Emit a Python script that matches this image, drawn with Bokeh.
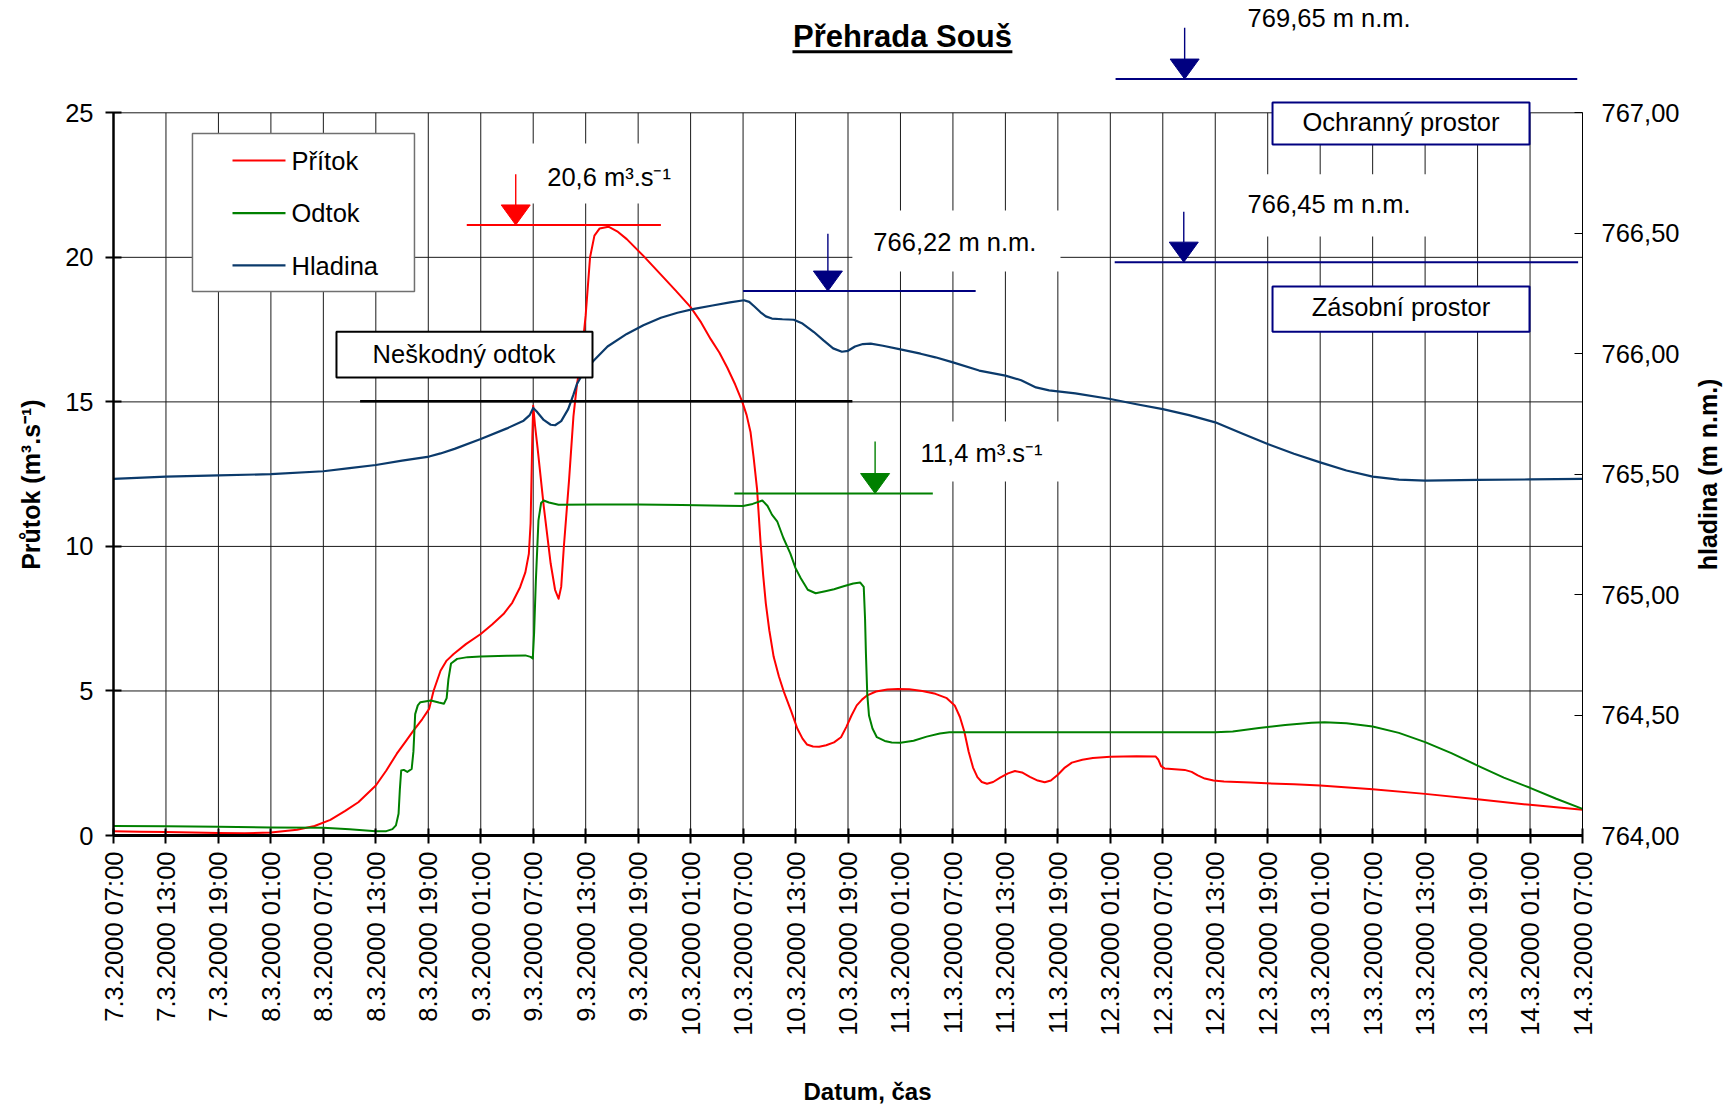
import math
from bokeh.plotting import figure
from bokeh.models import Range1d, LinearAxis, FixedTicker
from bokeh.core.properties import value
from bokeh.embed import file_html
from bokeh.resources import INLINE

FONT = "Liberation Sans"

# ---------------- data ----------------
# x axis: hours after 7.3.2000 07:00, one tick every 6 hours
tick_hours = list(range(0, 169, 6))
tick_labels = [
    "7.3.2000 07:00", "7.3.2000 13:00", "7.3.2000 19:00",
    "8.3.2000 01:00", "8.3.2000 07:00", "8.3.2000 13:00", "8.3.2000 19:00",
    "9.3.2000 01:00", "9.3.2000 07:00", "9.3.2000 13:00", "9.3.2000 19:00",
    "10.3.2000 01:00", "10.3.2000 07:00", "10.3.2000 13:00", "10.3.2000 19:00",
    "11.3.2000 01:00", "11.3.2000 07:00", "11.3.2000 13:00", "11.3.2000 19:00",
    "12.3.2000 01:00", "12.3.2000 07:00", "12.3.2000 13:00", "12.3.2000 19:00",
    "13.3.2000 01:00", "13.3.2000 07:00", "13.3.2000 13:00", "13.3.2000 19:00",
    "14.3.2000 01:00", "14.3.2000 07:00",
]
q_ticks = [0, 5, 10, 15, 20, 25]
h_ticks = [764, 764.5, 765, 765.5, 766, 766.5, 767]
h_tick_labels = ["764,00", "764,50", "765,00", "765,50", "766,00", "766,50", "767,00"]

# Přítok (inflow), m3/s
pritok_t = [0, 3, 6, 9, 12, 15, 18, 21, 23, 24.8, 26.5, 28, 30, 31.2, 32.4, 33.4, 34.3, 35.3,
            36.1, 36.6, 37.4, 38.1, 38.9, 40.3, 42, 43.3, 44.6, 45.6, 46.5, 47.1, 47.5, 47.7,
            47.8, 47.9, 48.0, 48.2, 48.5, 49.2, 50.0, 50.5, 50.9, 51.2, 51.5, 52.1, 52.6,
            53.0, 53.5, 54.0, 54.5, 55.0, 55.6, 56.6, 57.6, 58.7, 60.6, 62.6, 64.3, 66.0,
            67.2, 68.3, 69.3, 70.2, 71.1, 71.9, 72.4, 72.85, 73.2, 73.6, 74.0, 74.3, 74.6,
            75.0, 75.5, 76.1, 76.7, 77.5, 78.2, 78.8, 79.3, 80.0, 80.7, 81.5, 82.4, 83.2,
            83.8, 84.4, 85.0, 85.6, 86.2, 87.2, 88.5, 89.7, 91, 92.5, 94, 95.3, 96.2, 96.8,
            97.3, 97.8, 98.3, 98.8, 99.3, 99.9, 100.6, 101.4, 102.3, 103.1, 103.9, 104.8,
            105.7, 106.5, 107.2, 108, 108.8, 109.6, 110.8, 112, 114, 117, 119.2, 119.5,
            119.8, 120.2, 121, 122.5, 123.3, 124, 124.8, 125.8, 127, 130, 135, 138, 144,
            150, 156, 162, 168]
pritok_q = [0.15, 0.13, 0.12, 0.10, 0.09, 0.08, 0.10, 0.20, 0.33, 0.54, 0.85, 1.15, 1.73,
            2.25, 2.83, 3.25, 3.63, 4.02, 4.38, 5.0, 5.7, 6.05, 6.28, 6.62, 6.97, 7.3, 7.66,
            8.05, 8.59, 9.1, 9.74, 10.8, 12.3, 13.8, 14.87, 14.2, 13.4, 11.4, 9.4, 8.5, 8.19,
            8.6, 9.97, 12.3, 14.5, 15.6, 16.5, 18.0, 20.0, 20.75, 21.0, 21.06, 20.9, 20.63,
            20.05, 19.4, 18.85, 18.28, 17.75, 17.17, 16.7, 16.18, 15.6, 15.01, 14.55, 13.96,
            13.1, 11.98, 10.13, 9.0, 8.03, 7.1, 6.18, 5.5, 4.94, 4.3, 3.7, 3.35, 3.15, 3.08,
            3.07, 3.12, 3.22, 3.4, 3.75, 4.15, 4.5, 4.7, 4.85, 4.98, 5.05, 5.07, 5.06, 5.0,
            4.9, 4.75, 4.5, 4.1, 3.6, 2.9, 2.35, 2.02, 1.85, 1.79, 1.85, 2.0, 2.15, 2.23,
            2.18, 2.03, 1.9, 1.84, 1.9, 2.1, 2.35, 2.52, 2.62, 2.68, 2.72, 2.74, 2.73, 2.62,
            2.4, 2.32, 2.3, 2.27, 2.2, 2.08, 1.97, 1.9, 1.87, 1.83, 1.77, 1.73, 1.6, 1.44,
            1.25, 1.06, 0.89]

# Odtok (outflow), m3/s
odtok_t = [0, 6, 12, 18, 24, 27, 30, 31.2, 31.9, 32.3, 32.6, 32.75, 32.9, 33.2, 33.6, 34.1,
           34.3, 34.5, 34.8, 35.1, 36.3, 37.2, 37.8, 38.1, 38.3, 38.6, 39.3, 40.5, 42, 45,
           47.1, 47.7, 47.95, 48.1, 48.3, 48.6, 48.9, 49.2, 49.8, 50.9, 55, 60, 65, 70, 72,
           73.1, 74.2, 74.8, 75.3, 75.9, 76.6, 77.4, 78.0, 78.6, 79.4, 80.3, 81.4, 82.4,
           83.5, 84.6, 85.4, 85.8, 85.95, 86.05, 86.2, 86.4, 86.8, 87.3, 88.2, 89.0, 90.0,
           91.5, 93.0, 94.5, 95.6, 100, 110, 120, 126, 128, 131, 134, 137, 138.5, 141, 144,
           147, 150, 153, 156, 159, 162, 165, 168]
odtok_q = [0.33, 0.32, 0.30, 0.28, 0.27, 0.22, 0.15, 0.15, 0.22, 0.35, 0.75, 1.6, 2.25,
           2.27, 2.2, 2.3, 2.9, 4.2, 4.5, 4.61, 4.67, 4.6, 4.56, 4.75, 5.4, 5.95, 6.11, 6.17,
           6.19, 6.22, 6.23, 6.18, 6.12, 7.0, 8.8, 10.9, 11.5, 11.59, 11.52, 11.44, 11.45,
           11.45, 11.43, 11.41, 11.4, 11.47, 11.59, 11.4, 11.1, 10.87, 10.3, 9.76, 9.25, 8.9,
           8.5, 8.38, 8.45, 8.52, 8.62, 8.72, 8.75, 8.6, 7.5, 6.3, 4.9, 4.15, 3.7, 3.4, 3.27,
           3.22, 3.21, 3.28, 3.42, 3.53, 3.57, 3.57, 3.57, 3.57, 3.57, 3.6, 3.72, 3.82, 3.9,
           3.92, 3.88, 3.77, 3.55, 3.23, 2.85, 2.42, 2.0, 1.65, 1.27, 0.92]

# Hladina (water level), m n.m.
hladina_t = [0, 6, 12, 18, 24, 27, 30, 33, 36.1, 37.4, 39, 42, 45, 46.9, 47.6, 48.0, 48.4,
             49.2, 50.0, 50.5, 51.2, 52.0, 52.6, 53.0, 53.8, 54.9, 56.5, 58.7, 60.6, 62.6,
             64.5, 66.4, 68.5, 70.5, 72.1, 72.7, 73.3, 74.0, 74.6, 75.3, 76.5, 77.8, 78.8,
             80.1, 81.2, 82.3, 83.3, 84.0, 84.8, 85.7, 86.6, 88, 90, 92.3, 94, 96, 99, 102,
             103.8, 105.5, 107, 110, 114, 117, 120, 123, 126, 129, 132, 135, 138, 141, 144,
             147, 150, 156, 162, 168]
hladina_h = [765.48, 765.49, 765.495, 765.50, 765.512, 765.525, 765.538, 765.556, 765.573,
             765.586, 765.605, 765.646, 765.69, 765.722, 765.745, 765.775, 765.76, 765.725,
             765.705, 765.703, 765.72, 765.77, 765.83, 765.874, 765.925, 765.971, 766.03,
             766.082, 766.118, 766.149, 766.17, 766.186, 766.2, 766.213, 766.222, 766.215,
             766.196, 766.172, 766.155, 766.146, 766.143, 766.141, 766.125, 766.09, 766.055,
             766.022, 766.008, 766.012, 766.03, 766.04, 766.042, 766.033, 766.018, 766.0,
             765.985, 765.964, 765.93, 765.909, 765.89, 765.86, 765.848, 765.835, 765.812,
             765.79, 765.77, 765.745, 765.715, 765.67, 765.625, 765.585, 765.549, 765.515,
             765.49, 765.477, 765.473, 765.476, 765.478, 765.48]

# reference levels shown on the chart
q_max_in = 21.12      # line marking peak inflow (label 20,6)
q_max_out = 11.83     # line marking peak outflow (label 11,4)
q_harmless = 15.02    # Neškodný odtok
h_max_reached = 766.26
h_storage = 766.38
h_flood = 767.14

# ---------------- layout ----------------
W, H = 1731, 1109
X0_PX, Y0_PX = 113, 835          # page position of (0 h, 0 m3/s)
X_MAX = 168
PX_X = (1582 - 113) / X_MAX
PX_Q = (835 - 112.3) / 25.0
H_PER_Q = 3.0 / 25.0


def dx(px):
    return px / PX_X


def dq(px):
    return px / PX_Q


def dh(px):
    return dq(px) * H_PER_Q


y_lo, y_hi = -(H - Y0_PX) / PX_Q, Y0_PX / PX_Q
p = figure(width=W, height=H,
           x_range=Range1d(-X0_PX / PX_X, (W - X0_PX) / PX_X),
           y_range=Range1d(y_lo, y_hi),
           output_backend="svg", toolbar_location=None, title=None, min_border=0)
p.outline_line_color = None
p.background_fill_color = "white"
p.border_fill_color = "white"

TICK_FS = "25.5px"
FS = "25.5px"
MID = 0.3465 * 25.5 / PX_Q       # baseline -> middle shift for 25.5px text

# bottom axis
xa = p.xaxis[0]
xa.fixed_location = 0
xa.bounds = (0, X_MAX)
xa.ticker = FixedTicker(ticks=tick_hours)
xa.major_label_overrides = dict(zip(tick_hours, tick_labels))
xa.major_label_orientation = math.pi / 2
xa.major_label_text_font = FONT
xa.major_label_text_font_size = TICK_FS
xa.major_label_text_color = "black"
xa.major_label_standoff = 8
xa.minor_tick_line_color = None
xa.major_tick_in = 7
xa.major_tick_out = 8
xa.major_tick_line_width = 2
xa.major_tick_line_color = "black"
xa.axis_line_width = 3
xa.axis_line_color = "black"

# left axis
ya = p.yaxis[0]
ya.fixed_location = 0
ya.ticker = FixedTicker(ticks=q_ticks)
ya.bounds = (0, 25)
ya.major_label_text_font = FONT
ya.major_label_text_font_size = TICK_FS
ya.major_label_text_color = "black"
ya.major_label_standoff = 12
ya.minor_tick_line_color = None
ya.major_tick_in = 8
ya.major_tick_out = 8
ya.major_tick_line_width = 2
ya.axis_line_width = 2.5
ya.axis_line_color = "black"

# right axis (water level)
p.extra_y_ranges = {"h": Range1d(764 + y_lo * H_PER_Q, 764 + y_hi * H_PER_Q)}
ra = LinearAxis(y_range_name="h", fixed_location=X_MAX)
ra.ticker = FixedTicker(ticks=h_ticks)
ra.bounds = (764, 767)
ra.major_label_overrides = dict(zip(h_ticks, h_tick_labels))
ra.major_label_text_font = FONT
ra.major_label_text_font_size = TICK_FS
ra.major_label_text_color = "black"
ra.major_label_standoff = 19
ra.minor_tick_line_color = None
ra.major_tick_in = 8
ra.major_tick_out = 0
ra.major_tick_line_width = 1
ra.axis_line_width = 1
ra.axis_line_color = "black"
p.add_layout(ra, "right")

# grid (drawn only inside the plot area)
p.xgrid.visible = False
p.ygrid.visible = False
GRID = "#1a1a1a"
grid_x = tick_hours[1:-1]
p.segment(x0=grid_x, y0=[0] * len(grid_x), x1=grid_x, y1=[25] * len(grid_x),
          line_color=GRID, line_width=1)
grid_y = q_ticks[1:]
p.segment(x0=[0] * len(grid_y), y0=grid_y, x1=[X_MAX] * len(grid_y), y1=grid_y,
          line_color=GRID, line_width=1)

# data lines
RED, GREEN, BLUE, NAVY = "#FF0000", "#008000", "#0B3A6B", "#000080"
p.line(pritok_t, pritok_q, line_color=RED, line_width=2, line_join="round")
p.line(odtok_t, odtok_q, line_color=GREEN, line_width=2, line_join="round")
p.line(hladina_t, hladina_h, line_color=BLUE, line_width=2.2, line_join="round",
       y_range_name="h")

# white masks behind value labels
p.quad(left=[47.0, 84.5, 127.5, 90.6], right=[65.3, 108.3, 151.8, 108.5],
       top=[23.94, 21.62, 22.87, 14.32], bottom=[21.86, 19.51, 20.72, 12.25],
       fill_color="white", line_color=None)

# boxes
p.quad(left=[132.55, 132.55], right=[161.94, 161.94], top=[25.36, 18.99], bottom=[23.90, 17.43],
       fill_color="white", line_color=NAVY, line_width=2)
p.quad(left=[25.5], right=[54.78], top=[17.43], bottom=[15.84],
       fill_color="white", line_color="black", line_width=2)

# legend (drawn)
p.quad(left=[9.03], right=[34.42], top=[24.28], bottom=[18.82],
       fill_color="white", line_color="#707070", line_width=1.5)
leg_y = [23.35, 21.53, 19.72]
p.segment(x0=[13.61] * 3, x1=[19.67] * 3, y0=leg_y, y1=leg_y,
          line_color=[RED, GREEN, BLUE], line_width=2.2)
p.text(x=[20.36] * 3, y=[23.03 + MID, 21.22 + MID, 19.40 + MID],
       text=["Přítok", "Odtok", "Hladina"],
       text_font=value(FONT), text_font_size=value(FS), text_color="black",
       text_align="left", text_baseline="middle")


def ref_line(x0, x1, y, color, yr=None, width=2):
    kw = {"y_range_name": yr} if yr else {}
    p.segment(x0=[x0], x1=[x1], y0=[y], y1=[y], line_color=color, line_width=width, **kw)


def arrow(x, y_tip, y_top, color, yr=None):
    unit = dh if yr else dq
    kw = {"y_range_name": yr} if yr else {}
    hh = unit(20)
    hw = dx(14.5)
    p.segment(x0=[x], x1=[x], y0=[y_top], y1=[y_tip + hh], line_color=color,
              line_width=1.4, **kw)
    p.patch(x=[x - hw, x + hw, x], y=[y_tip + hh, y_tip + hh, y_tip],
            fill_color=color, line_color=color, line_width=1, **kw)


ref_line(40.4, 62.6, q_max_in, RED)
arrow(46.0, q_max_in, 22.87, RED)
ref_line(71.0, 93.7, q_max_out, GREEN)
arrow(87.1, q_max_out, 13.63, GREEN)
ref_line(28.2, 84.5, q_harmless, "black", width=2.5)
ref_line(72.0, 98.6, h_max_reached, NAVY, yr="h")
arrow(81.7, h_max_reached, 766.498, NAVY, yr="h")
ref_line(114.5, 167.5, h_storage, NAVY, yr="h")
arrow(122.4, h_storage, 766.589, NAVY, yr="h")
ref_line(114.6, 167.4, h_flood, NAVY, yr="h")
arrow(122.5, h_flood, 767.353, NAVY, yr="h")

# value labels
p.text(x=[49.6, 92.3], y=[22.485 + MID, 12.91 + MID], text=["20,6 m³.s⁻¹", "11,4 m³.s⁻¹"],
       text_font=value(FONT), text_font_size=value(FS), text_color="black",
       text_align="left", text_baseline="middle")
p.text(x=[86.9, 129.7, 129.7], y=[20.24 + MID, 21.53 + MID, 27.96 + MID],
       text=["766,22 m n.m.", "766,45 m n.m.", "769,65 m n.m."],
       text_font=value(FONT), text_font_size=value(FS), text_color="black",
       text_align="left", text_baseline="middle")
p.text(x=[147.24, 147.24, 40.08], y=[24.39 + MID, 17.99 + MID, 16.36 + MID],
       text=["Ochranný prostor", "Zásobní prostor", "Neškodný odtok"],
       text_font=value(FONT), text_font_size=value(FS), text_color="black",
       text_align="center", text_baseline="middle")

# chart title (underlined)
p.text(x=[90.23], y=[27.27 + 0.3465 * 31 / PX_Q], text=["Přehrada Souš"], text_font=value(FONT),
       text_font_size=value("31px"), text_font_style="bold", text_color="black",
       text_align="center", text_baseline="middle")
ref_line(77.65, 102.8, 27.11, "black", width=3)

# axis titles
p.text(x=[-9.38], y=[12.14], text=["Průtok (m³.s⁻¹)"], angle=math.pi / 2,
       text_font=value(FONT), text_font_size=value("25px"), text_font_style="bold",
       text_color="black", text_align="center", text_baseline="middle")
p.text(x=[182.3], y=[12.49], text=["hladina (m n.m.)"], angle=math.pi / 2,
       text_font=value(FONT), text_font_size=value("25px"), text_font_style="bold",
       text_color="black", text_align="center", text_baseline="middle")
p.text(x=[86.23], y=[-9.13 + 0.3465 * 24 / PX_Q], text=["Datum, čas"],
       text_font=value(FONT), text_font_size=value("24px"), text_font_style="bold",
       text_color="black", text_align="center", text_baseline="middle")

open("out.html", "w").write(file_html(p, INLINE))
